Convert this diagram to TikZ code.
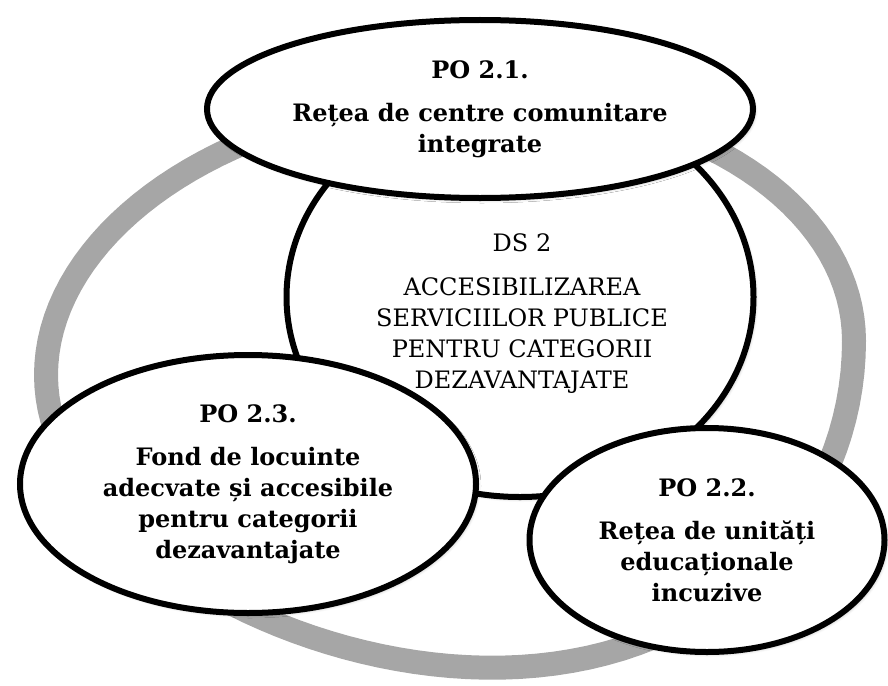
\documentclass[tikz,border=0pt]{standalone}
\usepackage{fontspec}
\setmainfont{DejaVu Serif}
\usetikzlibrary{shapes.geometric,shadows.blur}
\definecolor{ringgray}{RGB}{166,166,166}

\begin{document}
\begin{tikzpicture}[x=1pt,y=-1pt,
		oval/.style={ellipse,draw=black,line width=6pt,fill=white,inner sep=0pt,align=center,
			font=\fontsize{24}{31}\selectfont\bfseries,
			blur shadow={shadow xshift=2pt,shadow yshift=-2pt,shadow blur radius=3pt,shadow opacity=30}},
		dstext/.style={align=center,font=\fontsize{24}{31}\selectfont}]
	\useasboundingbox (0,0) rectangle (888,685);
	% grey ring behind the ovals, flatter on top than below
	\draw[ringgray,line width=24pt,line join=round] plot[domain=0:357.5,samples=144]
		({450+404*cos(\x)},{358-17*cos(\x)-sin(\x)*(sin(\x)>0 ? 260 : 308+50*cos(\x))}) -- cycle;
	\node[oval,minimum width=467pt,minimum height=400pt] (ds) at (520,297) {};
	\node[dstext] (dslabel) at (522,314) {DS 2\\[13pt] ACCESIBILIZAREA\\ SERVICIILOR PUBLICE\\ PENTRU CATEGORII\\ DEZAVANTAJATE};
	\node[oval,minimum width=546pt,minimum height=178pt] (po1) at (480,109) {PO 2.1.\\[12pt] Rețea de centre comunitare\\ integrate};
	\node[oval,minimum width=456pt,minimum height=258pt] (po3) at (248,484) {PO 2.3.\\[12pt] Fond de locuinte\\ adecvate și accesibile\\ pentru categorii\\ dezavantajate};
	\node[oval,minimum width=355pt,minimum height=224pt] (po2) at (707,540) {PO 2.2.\\[12pt] Rețea de unități\\ educaționale\\ incuzive};
\end{tikzpicture}
\end{document}
